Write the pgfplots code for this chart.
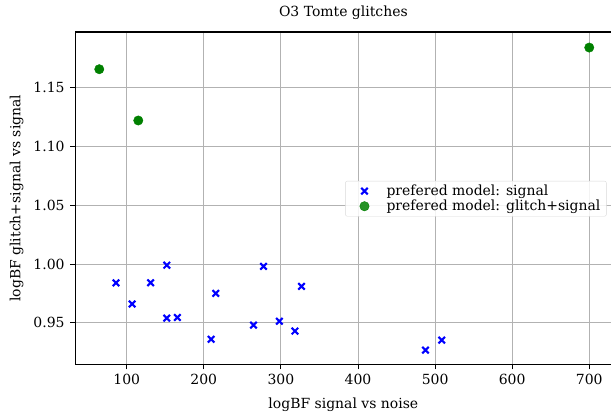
\documentclass[border=0pt]{standalone}
\usepackage{pgfplots}
\pgfplotsset{compat=1.18}
\usepackage{fontspec}
\setmainfont{DejaVu Serif}
\definecolor{mplgreen}{HTML}{008000}
\newcommand{\mplfont}{\fontsize{14}{16.5}\selectfont}

\begin{document}
\begin{tikzpicture}[font=\mplfont]
\begin{axis}[
    scale only axis,
    width=536bp, height=332bp,
    xmin=33, xmax=729,
    ymin=0.9147, ymax=1.1972,
    xtick={100,200,...,700},
    ytick={0.95,1.00,1.05,1.10,1.15},
    xticklabel={\mplfont\pgfmathprintnumber[assume math mode=true]{\tick}},
    yticklabel={\mplfont\pgfmathprintnumber[assume math mode=true,fixed,fixed zerofill,precision=2]{\tick}},
    xticklabel style={yshift=-1bp},
    yticklabel style={xshift=-2bp},
    tick align=outside,
    xtick pos=left, ytick pos=left,
    major tick length=5bp,
    tick style={black, line width=0.9bp},
    grid=major,
    grid style={color=black!30, line width=0.9bp},
    axis line style={black, line width=1.1bp},
    title={O3 Tomte glitches},
    title style={at={(axis description cs:0.5,1.028)}, anchor=base, font=\mplfont},
    xlabel={logBF signal vs noise},
    ylabel={logBF glitch+signal vs signal},
    xlabel style={at={(axis description cs:0.5,-0.1325)}, anchor=base, font=\mplfont},
    ylabel style={at={(axis description cs:-0.109,0.5)}, anchor=center, font=\mplfont},
    legend style={at={(0.9907,0.4985)}, anchor=east, draw=black!15, rounded corners=2bp,
        fill=white, fill opacity=0.85, text opacity=1, inner xsep=4bp, inner ysep=2bp,
        font=\mplfont, row sep=-1bp},
    legend cell align=left,
    legend image code/.code={\path (0bp,0) (33bp,0); \draw[#1] plot coordinates {(14bp,0)};},
]
\addplot[only marks, color=blue, mark=x, mark size=4.6bp, line width=2.1bp] coordinates {
    (86,0.984) (107,0.966) (131,0.984) (152,0.999) (152,0.954) (165.7,0.9546)
    (209.5,0.936) (215.5,0.975) (264.5,0.948) (277.5,0.998) (298,0.9514)
    (318.2,0.943) (326.8,0.981) (487.5,0.9268) (508.6,0.9353)
};
\addplot[only marks, color=mplgreen, mark=*, mark size=4.7bp, mark options={draw=mplgreen, fill=mplgreen}] coordinates {
    (64.4,1.1656) (115,1.122) (700,1.184)
};
\legend{prefered model: signal, prefered model: glitch+signal}
\end{axis}
\pgfresetboundingbox
\path ([shift={(-75bp,-47bp)}]current axis.south west) rectangle ([shift={(-0.6bp,32bp)}]current axis.north east);
\end{tikzpicture}
\end{document}
